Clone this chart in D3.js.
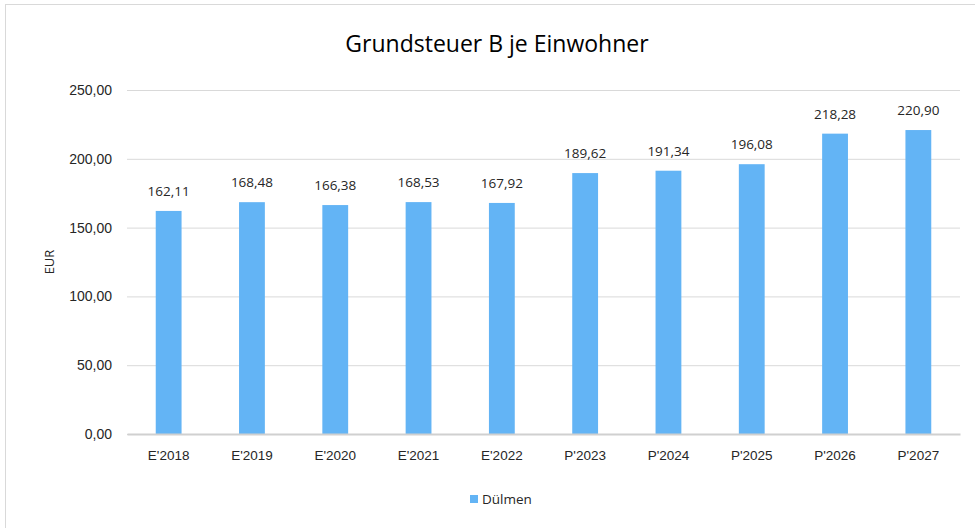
<!DOCTYPE html>
<html>
<head>
<meta charset="utf-8">
<script src="https://cdn.jsdelivr.net/npm/d3@7"></script>
<style>
  body { margin: 0; background: #fff; }
  svg { font-family: "Open Sans", "Noto Sans", sans-serif; }
</style>
</head>
<body>
<svg class="bar-chart" width="975" height="528"></svg>
<script>
const years = ["E'2018", "E'2019", "E'2020", "E'2021", "E'2022", "P'2023", "P'2024", "P'2025", "P'2026", "P'2027"];
const values = [162.11, 168.48, 166.38, 168.53, 167.92, 189.62, 191.34, 196.08, 218.28, 220.90];
const yTicks = [0, 50, 100, 150, 200, 250];
const seriesName = 'Dülmen';

const svg = d3.select('.bar-chart');
const margin = { left: 127, top: 90, right: 15, bottom: 94 };
const width = +svg.attr('width') - margin.left - margin.right;
const height = +svg.attr('height') - margin.top - margin.bottom;

const fmt = d3.formatLocale({ decimal: ',', thousands: '.', grouping: [3], currency: ['', ' €'] }).format(',.2f');
const barColor = '#63b4f5';
const textColor = '#262626';

// chart border (only top and left visible in the reference)
svg.append('rect')
    .attr('x', 5.5).attr('y', 4.5)
    .attr('width', 1000).attr('height', 600)
    .attr('fill', 'none')
    .attr('stroke', '#d9d9d9');

const g = svg.append('g').attr('transform', `translate(${margin.left},${margin.top})`);

const x = d3.scaleBand().domain(years).range([0, width]).paddingInner(0.69).paddingOuter(0.345);
const y = d3.scaleLinear().domain([0, 250]).range([height, 0]);

// gridlines + y labels
const yAxis = d3.axisLeft(y).tickValues(yTicks).tickFormat(fmt).tickSize(-width).tickPadding(15);
const yG = g.append('g').call(yAxis);
yG.select('.domain').remove();
yG.selectAll('.tick line').attr('stroke', '#d9d9d9');
yG.selectAll('.tick text')
    .attr('font-size', 14)
    .attr('fill', textColor);

// bars
g.selectAll('.bar')
    .data(values)
    .enter().append('rect')
    .attr('class', 'bar')
    .attr('x', (d, i) => x(years[i]))
    .attr('y', d => y(d))
    .attr('width', x.bandwidth())
    .attr('height', d => height - y(d))
    .attr('fill', barColor);

// x axis
const xAxis = d3.axisBottom(x).tickSize(0).tickPadding(16);
const xG = g.append('g').attr('transform', `translate(0,${height})`).call(xAxis);
xG.select('.domain').attr('stroke', '#d0d0d0').attr('stroke-width', 2);
xG.selectAll('.tick text')
    .attr('font-size', 13.5)
    .attr('fill', textColor);

// value labels
g.selectAll('.val')
    .data(values)
    .enter().append('text')
    .attr('class', 'val')
    .attr('x', (d, i) => x(years[i]) + x.bandwidth() / 2)
    .attr('y', d => y(d) - 15)
    .attr('text-anchor', 'middle')
    .attr('font-size', 13.5)
    .attr('fill', textColor)
    .text(d => fmt(d));

// title
svg.append('text')
    .attr('x', 497).attr('y', 52)
    .attr('text-anchor', 'middle')
    .attr('font-size', 23)
    .attr('fill', '#000')
    .text('Grundsteuer B je Einwohner');

// y axis label
svg.append('text')
    .attr('transform', `translate(54,${margin.top + height / 2}) rotate(-90)`)
    .attr('text-anchor', 'middle')
    .attr('font-size', 13)
    .attr('fill', textColor)
    .text('EUR');

// legend
const leg = svg.append('g').attr('transform', 'translate(470,495)');
leg.append('rect').attr('width', 8).attr('height', 8).attr('fill', barColor);
leg.append('text')
    .attr('x', 12).attr('y', 9)
    .attr('font-size', 13.5)
    .attr('fill', textColor)
    .text(seriesName);
</script>
</body>
</html>
